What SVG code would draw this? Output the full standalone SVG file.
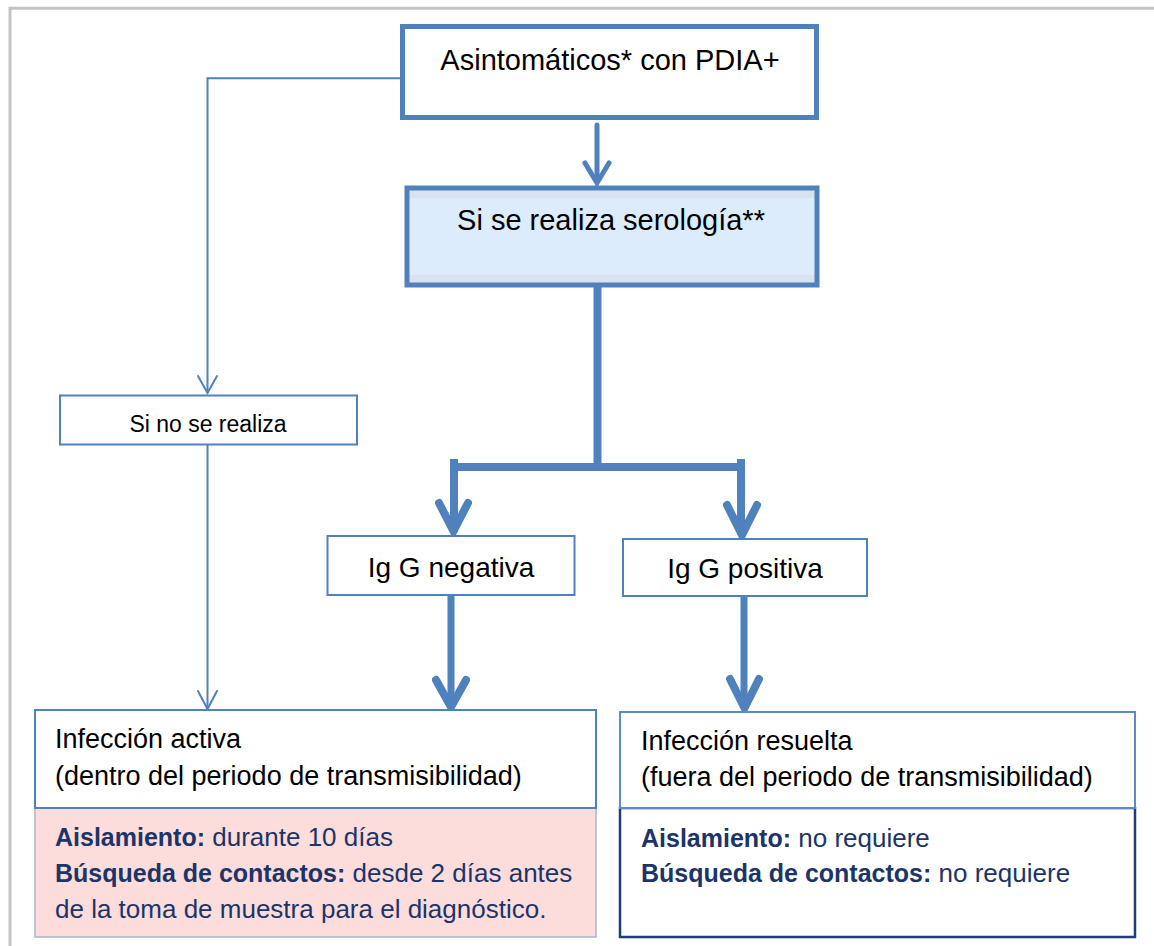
<svg xmlns="http://www.w3.org/2000/svg" width="1154" height="946" viewBox="0 0 1154 946">
<style>
  text { font-family: "Liberation Sans", Arial, sans-serif; fill: #000; }
  .lbl { font-size: 28px; text-anchor: middle; }
  .big { font-size: 29px; text-anchor: middle; }
  .sm { font-size: 23px; text-anchor: middle; }
  .hd { font-size: 27px; }
  .ct { font-size: 26px; fill: #1b3568; }
  .b { font-weight: bold; font-size: 25px; }
  .thick { stroke: #4f81bd; stroke-width: 5; }
  .box { fill: #fff; stroke: #4f81bd; stroke-width: 2; }
  .conn { fill: none; stroke: #4f81bd; stroke-linecap: round; stroke-linejoin: miter; }
</style>
<defs>
  <linearGradient id="sero" x1="0" y1="0" x2="0" y2="1">
    <stop offset="0" stop-color="#d9e3ef"/>
    <stop offset="0.1" stop-color="#d9e3ef"/>
    <stop offset="0.11" stop-color="#ddecfc"/>
    <stop offset="0.89" stop-color="#ddecfc"/>
    <stop offset="0.9" stop-color="#d9e3ef"/>
    <stop offset="1" stop-color="#d9e3ef"/>
  </linearGradient>
</defs>
<rect x="0" y="0" width="1154" height="946" fill="#fff"/>
<g id="frame">
  <path d="M10,946 V8.3 H1154" fill="none" stroke="#c3c3c3" stroke-width="3"/>
</g>
<g id="connectors">
  <path class="conn" d="M401,78.3 H207.5 V392" stroke-width="2"/>
  <polyline class="conn" points="198,376 207.5,393 217,376" stroke-width="2"/>
  <path class="conn" d="M207.5,444 V708" stroke-width="2"/>
  <polyline class="conn" points="198,691 207.5,709 217,691" stroke-width="2"/>
  <path class="conn" d="M597,125 V181" stroke-width="5"/>
  <polyline class="conn" points="585,163 597,183 609,163" stroke-width="5"/>
  <path class="conn" d="M597.5,287 V467 M454,467 H741 M454,463 V528 M741,463 V531" stroke-width="8" style="stroke-linecap:square"/>
  <polyline class="conn" points="439,503 453.5,531 468,503" stroke-width="8"/>
  <polyline class="conn" points="727,505 742,535 757,505" stroke-width="8"/>
  <path class="conn" d="M451,596 V703 M744,597 V704" stroke-width="7" style="stroke-linecap:butt"/>
  <polyline class="conn" points="436,680 451,707 466,680" stroke-width="8"/>
  <polyline class="conn" points="730,679 744.5,708 759,679" stroke-width="8"/>
</g>
<g id="node-asintomaticos">
  <rect class="thick" x="402.5" y="26.5" width="414" height="91" style="fill:#fff"/>
  <text class="big" x="610" y="70">Asintomáticos* con PDIA+</text>
</g>
<g id="node-serologia">
  <rect class="thick" x="407" y="188" width="410" height="97" style="fill:url(#sero)"/>
  <text class="big" x="611" y="230">Si se realiza serología**</text>
</g>
<g id="node-no-realiza">
  <rect class="box" x="60" y="395.5" width="297" height="49"/>
  <text class="sm" x="208" y="432">Si no se realiza</text>
</g>
<g id="node-igg-neg">
  <rect class="box" x="327.5" y="536" width="247" height="59"/>
  <text class="lbl" x="451" y="577">Ig G negativa</text>
</g>
<g id="node-igg-pos">
  <rect class="box" x="623" y="539" width="244" height="57"/>
  <text class="lbl" x="745" y="578">Ig G positiva</text>
</g>
<g id="node-activa">
  <rect x="35" y="808" width="561" height="129" fill="#fddcdc" stroke="#a6b6cf" stroke-width="1.5"/>
  <rect class="box" x="35" y="710" width="561" height="98"/>
  <text class="hd" x="55" y="748">Infección activa</text>
  <text class="hd" x="55" y="785">(dentro del periodo de transmisibilidad)</text>
  <text class="ct" x="55" y="846"><tspan class="b">Aislamiento:</tspan> durante 10 días</text>
  <text class="ct" x="55" y="882"><tspan class="b">Búsqueda de contactos:</tspan> desde 2 días antes</text>
  <text class="ct" x="55" y="918">de la toma de muestra para el diagnóstico.</text>
</g>
<g id="node-resuelta">
  <rect x="620" y="808" width="515" height="129" fill="#fff" stroke="#1f3b78" stroke-width="2.5"/>
  <rect x="620" y="712" width="515" height="96" fill="#fff" stroke="#5b8cc8" stroke-width="2"/>
  <text class="hd" x="641" y="750">Infección resuelta</text>
  <text class="hd" x="641" y="786">(fuera del periodo de transmisibilidad)</text>
  <text class="ct" x="641" y="847"><tspan class="b">Aislamiento:</tspan> no requiere</text>
  <text class="ct" x="641" y="882"><tspan class="b">Búsqueda de contactos:</tspan> no requiere</text>
</g>
</svg>
